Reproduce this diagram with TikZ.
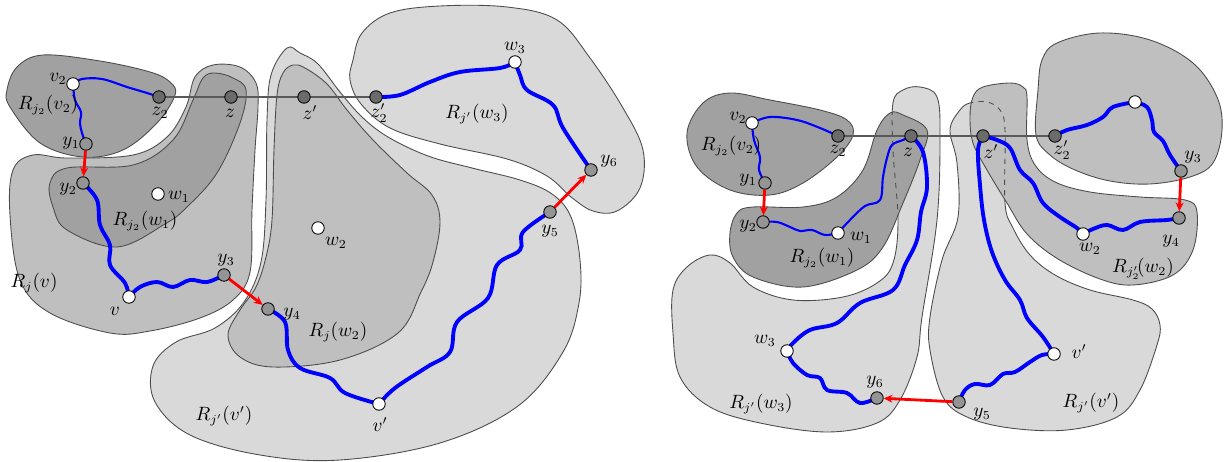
\documentclass[tikz,border=0pt]{standalone}
\usetikzlibrary{arrows.meta}
\begin{document}
\begin{tikzpicture}[x=0.02cm,y=-0.02cm,
  dk/.style={fill=black!37,draw=black!70,line width=0.5pt},
  md/.style={fill=black!25,draw=black!70,line width=0.5pt},
  lt/.style={fill=black!15,draw=black!70,line width=0.5pt},
  hid/.style={draw=black!70,line width=0.5pt,dashed},
  wn/.style={circle,draw=black,line width=0.5pt,fill=white,minimum size=0.25cm,inner sep=0pt},
  gn/.style={wn,fill=black!42},
  zn/.style={wn,fill=black!58},
  bthin/.style={blue,line width=1.2pt},
  bthick/.style={blue,line width=2.2pt},
  rarr/.style={red,line width=1.6pt,-{Stealth[length=5pt,width=4.5pt]}},
  hl/.style={black!65,line width=0.6pt},
  lbl/.style={inner sep=0pt,font=\fontsize{10.5}{12}\selectfont}]
\useasboundingbox (0,0) rectangle (1232,462);
% ---------------- LEFT FIGURE ----------------
\draw[lt] plot[smooth cycle,tension=0.6] coordinates {(287,48) (300,53) (318,64) (340,92) (362,117) (388,137) (428,156) (472,168) (520,180) (552,194) (571,217) (580,260) (579,303) (563,352) (518,406) (440,443) (340,460) (260,455) (190,435) (155,402) (153,366) (176,342) (215,328) (244,302) (261,262) (266,200) (267,120) (271,75)};
\draw[md] plot[smooth cycle,tension=0.6] coordinates {(293,65) (305,68) (327,84) (347,110) (373,140) (407,173) (432,195) (440,222) (433,262) (421,292) (398,333) (340,360) (273,367) (240,357) (228,335) (240,310) (256,287) (266,257) (272,220) (274,150) (277,95) (283,73)};
\draw[lt] plot[smooth cycle,tension=0.6] coordinates {(353,60) (362,33) (390,13) (440,6) (507,7) (557,20) (590,58) (623,108) (643,150) (640,188) (617,211) (593,211) (571,197) (547,176) (507,159) (440,144) (390,128) (361,104) (350,80)};
\draw[md] plot[smooth cycle,tension=0.6] coordinates {(13,170) (33,155) (67,158) (133,155) (167,137) (186,107) (195,77) (213,65) (240,67) (256,83) (258,107) (255,150) (252,210) (250,272) (233,300) (200,318) (150,331) (110,333) (50,313) (20,280) (10,215)};
\draw[dk] plot[smooth cycle,tension=0.6] coordinates {(50,183) (67,168) (133,165) (173,140) (193,100) (203,78) (215,73) (233,78) (246,90) (240,123) (217,173) (187,207) (165,224) (117,247) (67,230) (53,207)};
\draw[dk] plot[smooth cycle,tension=0.6] coordinates {(7,90) (17,67) (43,55) (100,61) (150,72) (170,82) (175,95) (157,123) (123,150) (83,157) (40,143) (10,107)};
% nodes positions
\coordinate (Lv2) at (73,84);  \coordinate (Lz2) at (159,97);
\coordinate (Lz) at (231,97);  \coordinate (Lzp) at (304,97);
\coordinate (Lz2p) at (376,97); \coordinate (Ly1) at (86,144);
\coordinate (Ly2) at (83,183); \coordinate (Lw1) at (158,194);
\coordinate (Lv) at (129,297); \coordinate (Ly3) at (224,275);
\coordinate (Ly4) at (268,309); \coordinate (Lw2) at (318,228);
\coordinate (Lvp) at (379,404); \coordinate (Ly5) at (550,212);
\coordinate (Ly6) at (591,170); \coordinate (Lw3) at (515,62);
\draw[hl] (Lz2) -- (Lz2p);
\draw[bthin] plot[smooth,tension=0.6] coordinates {(Lv2) (82,79) (102,79) (127,87) (147,93) (Lz2)};
\draw[bthin] plot[smooth,tension=0.6] coordinates {(Lv2) (75,100) (81,112) (80,123) (82,133) (Ly1)};
\draw[bthick] plot[smooth,tension=0.6] coordinates {(Ly2) (97,200) (100,225) (110,245) (110,265) (125,283) (Lv)};
\draw[bthick] plot[smooth,tension=0.6] coordinates {(Lv) (140,287) (157,282) (173,287) (190,280) (207,282) (Ly3)};
\draw[bthick] plot[smooth,tension=0.6] coordinates {(Ly4) (285,322) (288,350) (300,368) (330,378) (345,393) (Lvp)};
\draw[bthick] plot[smooth,tension=0.6] coordinates {(Lvp) (395,388) (427,367) (450,352) (457,322) (488,298) (497,265) (520,250) (523,232) (Ly5)};
\draw[bthick] plot[smooth,tension=0.6] coordinates {(Lz2p) (400,95) (430,82) (460,72) (500,68) (Lw3)};
\draw[bthick] plot[smooth,tension=0.6] coordinates {(Lw3) (520,75) (527,90) (553,105) (563,128) (Ly6)};
\node[wn] (nLv2) at (Lv2) {}; \node[zn] (nLz2) at (Lz2) {};
\node[zn] (nLz) at (Lz) {}; \node[zn] (nLzp) at (Lzp) {};
\node[zn] (nLz2p) at (Lz2p) {}; \node[gn] (nLy1) at (Ly1) {};
\node[gn] (nLy2) at (Ly2) {}; \node[wn] (nLw1) at (Lw1) {};
\node[wn] (nLv) at (Lv) {}; \node[gn] (nLy3) at (Ly3) {};
\node[gn] (nLy4) at (Ly4) {}; \node[wn] (nLw2) at (Lw2) {};
\node[wn] (nLvp) at (Lvp) {}; \node[gn] (nLy5) at (Ly5) {};
\node[gn] (nLy6) at (Ly6) {}; \node[wn] (nLw3) at (Lw3) {};
\draw[rarr] (nLy1) -- (nLy2);
\draw[rarr] (nLy3) -- (nLy4);
\draw[rarr] (nLy5) -- (nLy6);
% labels
\node[lbl] (tLv2) at (58,79) {$v_2$};
\node[lbl] (tLR1) at (48,105) {$R_{j_2}(v_2)$};
\node[lbl] (tLz2) at (160,113) {$z_2$};
\node[lbl] (tLz) at (230,113) {$z$};
\node[lbl] (tLzp) at (310,113) {$z'$};
\node[lbl] (tLz2p) at (379,113) {$z'_2$};
\node[lbl] (tLy1) at (71,143) {$y_1$};
\node[lbl] (tLy2) at (68,189) {$y_2$};
\node[lbl] (tLw1) at (179,197) {$w_1$};
\node[lbl] (tLR2) at (145,221) {$R_{j_2}(w_1)$};
\node[lbl] (tLR3) at (34,283) {$R_j(v)$};
\node[lbl] (tLv) at (115,311) {$v$};
\node[lbl] (tLy3) at (226,260) {$y_3$};
\node[lbl] (tLy4) at (292,314) {$y_4$};
\node[lbl] (tLw2) at (336,243) {$w_2$};
\node[lbl] (tLR4) at (338,332) {$R_j(w_2)$};
\node[lbl] (tLR5) at (224,416) {$R_{j'}(v')$};
\node[lbl] (tLvp) at (380,425) {$v'$};
\node[lbl] (tLy5) at (550,231) {$y_5$};
\node[lbl] (tLy6) at (609,161) {$y_6$};
\node[lbl] (tLw3) at (515,48) {$w_3$};
\node[lbl] (tLR6) at (477,114) {$R_{j'}(w_3)$};
% ---------------- RIGHT FIGURE ----------------
\draw[lt] plot[smooth cycle,tension=0.6] coordinates {(893,103) (903,90) (920,87) (937,97) (940,137) (937,220) (922,317) (917,357) (900,400) (877,423) (827,432) (760,423) (710,407) (680,377) (673,333) (673,290) (687,267) (710,255) (730,263) (753,287) (793,300) (843,297) (877,283) (893,263) (898,220) (893,150)};
\draw[lt] plot[smooth cycle,tension=0.6] coordinates {(950,130) (960,110) (970,103) (987,102) (1000,110) (1005,130) (1005,203) (1013,228) (1030,255) (1055,275) (1090,290) (1133,300) (1152,309) (1160,325) (1157,345) (1140,390) (1117,417) (1067,430) (1010,428) (967,417) (943,397) (930,350) (930,317) (942,260) (958,217) (957,163)};
\draw[dk] plot[smooth cycle,tension=0.6] coordinates {(890,113) (903,115) (927,130) (920,160) (903,203) (883,247) (857,270) (803,287) (753,277) (733,257) (730,233) (737,213) (753,207) (803,207) (837,197) (863,170) (877,130)};
\begin{scope}
\clip plot[smooth cycle,tension=0.6] coordinates {(890,113) (903,115) (927,130) (920,160) (903,203) (883,247) (857,270) (803,287) (753,277) (733,257) (730,233) (737,213) (753,207) (803,207) (837,197) (863,170) (877,130)};
\draw[hid] plot[smooth cycle,tension=0.6] coordinates {(893,103) (903,90) (920,87) (937,97) (940,137) (937,220) (922,317) (917,357) (900,400) (877,423) (827,432) (760,423) (710,407) (680,377) (673,333) (673,290) (687,267) (710,255) (730,263) (753,287) (793,300) (843,297) (877,283) (893,263) (898,220) (893,150)};
\end{scope}
\draw[dk] plot[smooth cycle,tension=0.6] coordinates {(687,133) (703,103) (730,93) (770,100) (820,110) (847,120) (853,135) (837,157) (803,183) (770,195) (730,190) (697,167)};
\draw[md] plot[smooth cycle,tension=0.6] coordinates {(970,117) (973,97) (983,87) (1010,83) (1023,87) (1027,97) (1027,140) (1035,165) (1055,182) (1090,192) (1140,197) (1185,200) (1197,212) (1193,250) (1173,275) (1133,285) (1100,279) (1058,259) (1027,234) (1007,203) (987,170) (973,143)};
\begin{scope}
\clip plot[smooth cycle,tension=0.6] coordinates {(970,117) (973,97) (983,87) (1010,83) (1023,87) (1027,97) (1027,140) (1035,165) (1055,182) (1090,192) (1140,197) (1185,200) (1197,212) (1193,250) (1173,275) (1133,285) (1100,279) (1058,259) (1027,234) (1007,203) (987,170) (973,143)};
\draw[hid] plot[smooth cycle,tension=0.6] coordinates {(950,130) (960,110) (970,103) (987,102) (1000,110) (1005,130) (1005,203) (1013,228) (1030,255) (1055,275) (1090,290) (1133,300) (1152,309) (1160,325) (1157,345) (1140,390) (1117,417) (1067,430) (1010,428) (967,417) (943,397) (930,350) (930,317) (942,260) (958,217) (957,163)};
\end{scope}
\draw[md] plot[smooth cycle,tension=0.6] coordinates {(1036,135) (1038,90) (1042,60) (1057,43) (1100,33) (1150,40) (1193,63) (1217,97) (1222,130) (1213,163) (1190,177) (1150,184) (1110,181) (1075,170) (1050,155)};
% nodes positions
\coordinate (Rv2) at (752,123); \coordinate (Rz2) at (838,136);
\coordinate (Rz) at (911,136); \coordinate (Rzp) at (983,136);
\coordinate (Rz2p) at (1055,136); \coordinate (Ry1) at (765,183);
\coordinate (Ry2) at (763,222); \coordinate (Rw1) at (838,233);
\coordinate (Rw3) at (787,351); \coordinate (Ry6) at (877,398);
\coordinate (Ry5) at (959,402); \coordinate (Rvp) at (1054,354);
\coordinate (Rw2) at (1083,234); \coordinate (Ry4) at (1179,218);
\coordinate (Ry3) at (1181,171); \coordinate (Rt) at (1135,102);
\draw[hl] (Rz2) -- (Rz2p);
\draw[bthin] plot[smooth,tension=0.6] coordinates {(Rv2) (770,117) (797,120) (820,128) (Rz2)};
\draw[bthin] plot[smooth,tension=0.6] coordinates {(Rv2) (754,140) (760,157) (759,170) (Ry1)};
\draw[bthin] plot[smooth,tension=0.6] coordinates {(Ry2) (777,222) (790,227) (800,231) (812,230) (825,235) (Rw1)};
\draw[bthin] plot[smooth,tension=0.6] coordinates {(Rw1) (850,220) (865,206) (880,200) (883,177) (887,158) (892,145) (903,140) (Rz)};
\draw[bthick] plot[smooth,tension=0.6] coordinates {(Rz) (923,152) (927,187) (921,212) (917,240) (905,265) (893,290) (860,303) (837,323) (810,330) (793,343) (Rw3)};
\draw[bthick] plot[smooth,tension=0.6] coordinates {(Rw3) (793,363) (807,375) (820,378) (827,390) (847,393) (860,403) (Ry6)};
\draw[bthick] plot[smooth,tension=0.6] coordinates {(Ry5) (965,390) (975,384) (990,385) (1003,374) (1015,372) (1030,362) (1042,355) (Rvp)};
\draw[bthick] plot[smooth,tension=0.6] coordinates {(Rzp) (978,150) (980,185) (984,220) (992,252) (1005,280) (1020,300) (1027,318) (1043,337) (Rvp)};
\draw[bthick] plot[smooth,tension=0.6] coordinates {(Rzp) (997,140) (1010,148) (1020,170) (1033,183) (1043,203) (1060,217) (1077,228) (Rw2)};
\draw[bthick] plot[smooth,tension=0.6] coordinates {(Rw2) (1093,229) (1107,225) (1123,230) (1140,222) (1167,220) (Ry4)};
\draw[bthick] plot[smooth,tension=0.6] coordinates {(Rz2p) (1067,130) (1087,125) (1103,117) (1113,107) (Rt)};
\draw[bthick] plot[smooth,tension=0.6] coordinates {(Rt) (1147,107) (1152,120) (1154,132) (1163,141) (1170,155) (Ry3)};
\node[wn] (nRv2) at (Rv2) {}; \node[zn] (nRz2) at (Rz2) {};
\node[zn] (nRz) at (Rz) {}; \node[zn] (nRzp) at (Rzp) {};
\node[zn] (nRz2p) at (Rz2p) {}; \node[gn] (nRy1) at (Ry1) {};
\node[gn] (nRy2) at (Ry2) {}; \node[wn] (nRw1) at (Rw1) {};
\node[wn] (nRw3) at (Rw3) {}; \node[gn] (nRy6) at (Ry6) {};
\node[gn] (nRy5) at (Ry5) {}; \node[wn] (nRvp) at (Rvp) {};
\node[wn] (nRw2) at (Rw2) {}; \node[gn] (nRy4) at (Ry4) {};
\node[gn] (nRy3) at (Ry3) {}; \node[wn] (nRt) at (Rt) {};
\draw[rarr] (nRy1) -- (nRy2);
\draw[rarr] (nRy3) -- (nRy4);
\draw[rarr] (nRy5) -- (nRy6);
% labels
\node[lbl] (tRv2) at (738,118) {$v_2$};
\node[lbl] (tRR1) at (731,146) {$R_{j_2}(v_2)$};
\node[lbl] (tRz2) at (838,151) {$z_2$};
\node[lbl] (tRz) at (908,152) {$z$};
\node[lbl] (tRzp) at (991,152) {$z'$};
\node[lbl] (tRz2p) at (1062,150) {$z'_2$};
\node[lbl] (tRy1) at (748,180) {$y_1$};
\node[lbl] (tRy2) at (748,226) {$y_2$};
\node[lbl] (tRw1) at (861,238) {$w_1$};
\node[lbl] (tRR2) at (822,258) {$R_{j_2}(w_1)$};
\node[lbl] (tRw3) at (765,341) {$w_3$};
\node[lbl] (tRy6) at (875,382) {$y_6$};
\node[lbl] (tRR3) at (761,404) {$R_{j'}(w_3)$};
\node[lbl] (tRy5) at (982,414) {$y_5$};
\node[lbl] (tRvp) at (1079,352) {$v'$};
\node[lbl] (tRR4) at (1091,403) {$R_{j'}(v')$};
\node[lbl] (tRw2) at (1090,249) {$w_2$};
\node[lbl] (tRy4) at (1171,241) {$y_4$};
\node[lbl] (tRy3) at (1193,157) {$y_3$};
\node[lbl] (tRR5) at (1143,269) {$R_{j'_2}\!(w_2)$};
\end{tikzpicture}
\end{document}
